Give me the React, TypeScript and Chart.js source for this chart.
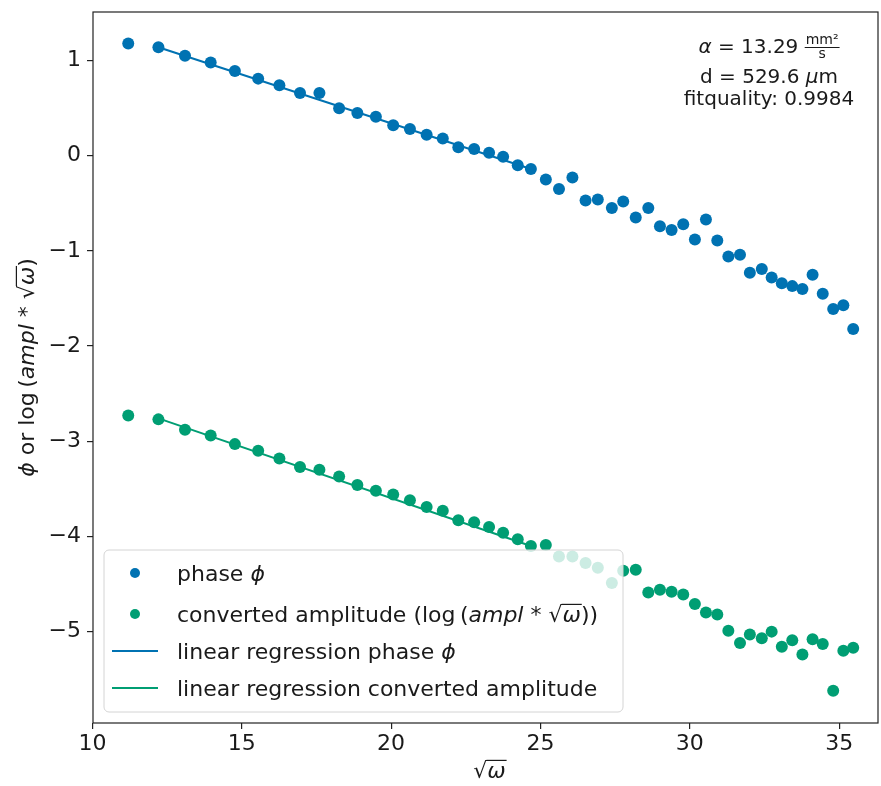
import { useEffect, useRef } from 'react';
import { Chart, registerables } from 'chart.js';

Chart.register(...registerables);

// ---- data ----
const SQRT_OMEGA = [11.20, 12.21, 13.10, 13.96, 14.77, 15.55, 16.26, 16.95, 17.60, 18.26, 18.87, 19.49, 20.07, 20.63, 21.19, 21.73, 22.25, 22.78, 23.28, 23.75, 24.24, 24.68, 25.18, 25.62, 26.07, 26.51, 26.92, 27.39, 27.77, 28.19, 28.61, 29.00, 29.39, 29.78, 30.17, 30.54, 30.92, 31.29, 31.68, 32.01, 32.41, 32.74, 33.08, 33.43, 33.77, 34.11, 34.45, 34.80, 35.14, 35.47];
const PHASE = [1.18, 1.14, 1.05, 0.98, 0.89, 0.81, 0.74, 0.66, 0.66, 0.50, 0.45, 0.41, 0.32, 0.28, 0.22, 0.18, 0.09, 0.07, 0.03, -0.01, -0.10, -0.14, -0.25, -0.35, -0.23, -0.47, -0.46, -0.55, -0.48, -0.65, -0.55, -0.74, -0.78, -0.72, -0.88, -0.67, -0.89, -1.06, -1.04, -1.23, -1.19, -1.28, -1.34, -1.37, -1.40, -1.25, -1.45, -1.61, -1.57, -1.82];
const AMPLITUDE = [-2.73, -2.77, -2.88, -2.94, -3.03, -3.10, -3.18, -3.27, -3.30, -3.37, -3.46, -3.52, -3.56, -3.62, -3.69, -3.73, -3.83, -3.85, -3.90, -3.96, -4.03, -4.10, -4.09, -4.21, -4.21, -4.28, -4.33, -4.49, -4.36, -4.35, -4.59, -4.56, -4.58, -4.61, -4.71, -4.80, -4.82, -4.99, -5.12, -5.03, -5.07, -5.00, -5.16, -5.09, -5.24, -5.08, -5.13, -5.62, -5.20, -5.17];
const FIT_X = [12.21, 24.68];
const PHASE_FIT = [1.14, -0.14];
const AMP_FIT = [-2.76, -4.10];
const X_TICKS = [10, 15, 20, 25, 30, 35];
const Y_TICKS = [1, 0, -1, -2, -3, -4, -5];
const X_RANGE = [10.02, 36.3];
const Y_RANGE = [-5.96, 1.51];
const ANNOTATION = { alpha: '13.29', d: '529.6', fit: '0.9984' };

const BLUE = '#0072B2';
const GREEN = '#009E73';
const INK = '#1a1a1a';
const FONT = '"DejaVu Sans", sans-serif';

type Seg = { t: string; it?: boolean; ov?: boolean; sz?: number };

function segFont(s: Seg, size: number) {
  return `${s.it ? 'italic ' : ''}${s.sz ?? size}px ${FONT}`;
}
function richWidth(ctx: CanvasRenderingContext2D, segs: Seg[], size: number) {
  let w = 0;
  for (const s of segs) {
    ctx.font = segFont(s, size);
    w += ctx.measureText(s.t).width;
  }
  return w;
}
function drawRich(ctx: CanvasRenderingContext2D, segs: Seg[], x: number, y: number, size: number, align: 'left' | 'center') {
  const w = richWidth(ctx, segs, size);
  let cx = align === 'center' ? x - w / 2 : x;
  ctx.textAlign = 'left';
  ctx.textBaseline = 'alphabetic';
  for (const s of segs) {
    ctx.font = segFont(s, size);
    const sw = ctx.measureText(s.t).width;
    ctx.fillText(s.t, cx, y);
    if (s.ov) {
      ctx.beginPath();
      ctx.lineWidth = Math.max(1, size * 0.055);
      const oy = y - size * 0.8;
      ctx.moveTo(cx - size * 0.04, oy);
      ctx.lineTo(cx + sw + size * 0.04, oy);
      ctx.stroke();
    }
    cx += sw;
  }
}

const sqrtSegs: Seg[] = [{ t: '\u221A' }, { t: 'ω', it: true, ov: true }];
const LEGEND_ROWS: { kind: 'pt' | 'line'; color: string; segs: Seg[] }[] = [
  { kind: 'pt', color: BLUE, segs: [{ t: 'phase ' }, { t: 'ϕ', it: true }] },
  { kind: 'pt', color: GREEN, segs: [{ t: 'converted amplitude (log\u2009(' }, { t: 'ampl', it: true }, { t: ' * ' }, ...sqrtSegs, { t: '))' }] },
  { kind: 'line', color: BLUE, segs: [{ t: 'linear regression phase ' }, { t: 'ϕ', it: true }] },
  { kind: 'line', color: GREEN, segs: [{ t: 'linear regression converted amplitude' }] },
];

const overlay = {
  id: 'overlay',
  afterDraw(chart: any) {
    const ctx: CanvasRenderingContext2D = chart.ctx;
    const { left, right, top, bottom } = chart.chartArea;
    ctx.save();
    // frame
    ctx.strokeStyle = '#222';
    ctx.lineWidth = 1.2;
    ctx.strokeRect(left, top, right - left, bottom - top);

    // legend
    const bx = 104, by = 550, bw = 519, bh = 162;
    ctx.beginPath();
    ctx.roundRect(bx, by, bw, bh, 5);
    ctx.fillStyle = 'rgba(255,255,255,0.8)';
    ctx.fill();
    ctx.strokeStyle = '#d4d4d4';
    ctx.lineWidth = 1;
    ctx.stroke();
    const rowY = [573, 614, 651, 688];
    LEGEND_ROWS.forEach((r, i) => {
      const y = rowY[i];
      if (r.kind === 'pt') {
        ctx.beginPath();
        ctx.arc(135, y, 5, 0, Math.PI * 2);
        ctx.fillStyle = r.color;
        ctx.fill();
      } else {
        ctx.beginPath();
        ctx.moveTo(112, y);
        ctx.lineTo(158, y);
        ctx.strokeStyle = r.color;
        ctx.lineWidth = 2;
        ctx.stroke();
      }
      ctx.fillStyle = INK;
      ctx.strokeStyle = INK;
      drawRich(ctx, r.segs, 177, y + 8, 22, 'left');
    });

    // annotation
    ctx.fillStyle = INK;
    ctx.strokeStyle = INK;
    const asz = 20;
    const aSegs: Seg[] = [{ t: 'α', it: true }, { t: ` = ${ANNOTATION.alpha} ` }];
    const w1 = richWidth(ctx, aSegs, asz);
    ctx.font = `14px ${FONT}`;
    const fw = Math.max(ctx.measureText('mm²').width, ctx.measureText('s').width) + 2;
    const cxA = 769;
    const sx = cxA - (w1 + fw) / 2;
    drawRich(ctx, aSegs, sx, 53, asz, 'left');
    const fx = sx + w1;
    ctx.font = `14px ${FONT}`;
    ctx.textAlign = 'center';
    ctx.fillText('mm²', fx + fw / 2, 44);
    ctx.fillText('s', fx + fw / 2, 58);
    ctx.beginPath();
    ctx.lineWidth = 1;
    ctx.moveTo(fx, 47.5);
    ctx.lineTo(fx + fw, 47.5);
    ctx.stroke();
    drawRich(ctx, [{ t: `d = ${ANNOTATION.d} ` }, { t: 'μ', it: true }, { t: 'm' }], cxA, 83, asz, 'center');
    drawRich(ctx, [{ t: `fitquality: ${ANNOTATION.fit}` }], cxA, 105, asz, 'center');

    // axis titles
    drawRich(ctx, sqrtSegs, (left + right) / 2 + 4, 778, 22, 'center');
    ctx.save();
    ctx.translate(34, (top + bottom) / 2);
    ctx.rotate(-Math.PI / 2);
    drawRich(ctx, [{ t: 'ϕ', it: true }, { t: ' or log\u2009(' }, { t: 'ampl', it: true }, { t: ' * ' }, ...sqrtSegs, { t: ')' }], 0, 0, 22, 'center');
    ctx.restore();
    ctx.restore();
  },
};

function zeroPad(s: any) {
  s.paddingTop = 0;
  s.paddingBottom = 0;
  s.paddingLeft = 0;
  s.paddingRight = 0;
}

export default function App() {
  const ref = useRef<HTMLCanvasElement | null>(null);
  useEffect(() => {
    document.body.style.margin = '0';
    const canvas = ref.current!;
    const tickFont = { family: FONT, size: 22 };
    const chart = new Chart(canvas, {
      type: 'scatter',
      data: {
        datasets: [
          {
            label: 'phase ϕ',
            data: SQRT_OMEGA.map((x, i) => ({ x, y: PHASE[i] })),
            backgroundColor: BLUE,
            borderColor: BLUE,
            pointRadius: 6,
            borderWidth: 0,
          },
          {
            label: 'converted amplitude',
            data: SQRT_OMEGA.map((x, i) => ({ x, y: AMPLITUDE[i] })),
            backgroundColor: GREEN,
            borderColor: GREEN,
            pointRadius: 6,
            borderWidth: 0,
          },
          {
            label: 'linear regression phase ϕ',
            data: FIT_X.map((x, i) => ({ x, y: PHASE_FIT[i] })),
            showLine: true,
            borderColor: BLUE,
            backgroundColor: BLUE,
            borderWidth: 2,
            pointRadius: 0,
          },
          {
            label: 'linear regression converted amplitude',
            data: FIT_X.map((x, i) => ({ x, y: AMP_FIT[i] })),
            showLine: true,
            borderColor: GREEN,
            backgroundColor: GREEN,
            borderWidth: 2,
            pointRadius: 0,
          },
        ],
      },
      options: {
        responsive: false,
        animation: false,
        layout: { autoPadding: false, padding: { left: 0, top: 12, right: 3, bottom: 0 } },
        plugins: { legend: { display: false }, tooltip: { enabled: false } },
        scales: {
          x: {
            type: 'linear',
            min: X_RANGE[0],
            max: X_RANGE[1],
            afterBuildTicks: (s: any) => { s.ticks = X_TICKS.map((v) => ({ value: v })); },
            afterFit: (s: any) => { s.height = 63; zeroPad(s); },
            grid: { display: true, drawOnChartArea: false, drawTicks: true, tickLength: 6, color: '#222', lineWidth: 1.2 },
            border: { display: false },
            ticks: { font: tickFont, color: INK, padding: 2, maxRotation: 0, callback: (v: any) => String(v) },
          },
          y: {
            type: 'linear',
            min: Y_RANGE[0],
            max: Y_RANGE[1],
            afterBuildTicks: (s: any) => { s.ticks = Y_TICKS.map((v) => ({ value: v })); },
            afterFit: (s: any) => { s.width = 93; zeroPad(s); },
            grid: { display: true, drawOnChartArea: false, drawTicks: true, tickLength: 6, color: '#222', lineWidth: 1.2 },
            border: { display: false },
            ticks: { font: tickFont, color: INK, padding: 6, callback: (v: any) => (v < 0 ? '\u2212' + Math.abs(v) : String(v)) },
          },
        },
      },
      plugins: [overlay],
    } as any);
    return () => chart.destroy();
  }, []);
  return (
    <div style={{ width: 881, height: 786 }}>
      <canvas ref={ref} width={881} height={786} style={{ width: 881, height: 786, display: 'block' }} />
    </div>
  );
}
